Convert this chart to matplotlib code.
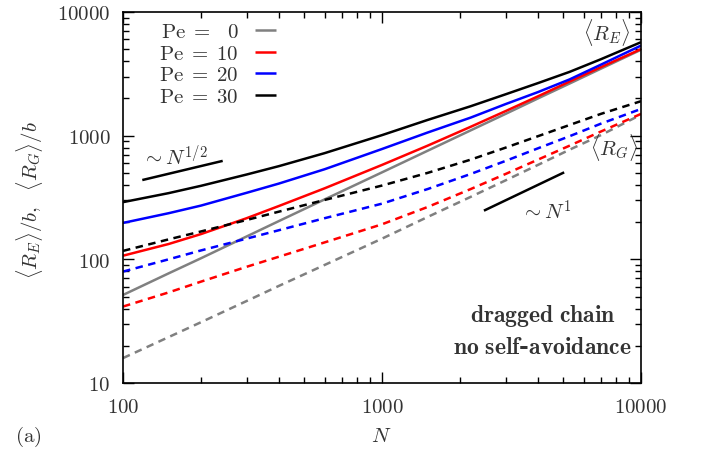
import numpy as np
import matplotlib.pyplot as plt
from matplotlib.ticker import NullFormatter, LogLocator

plt.rcParams['mathtext.fontset'] = 'cm'
plt.rcParams['font.family'] = 'serif'
plt.rcParams['font.serif'] = ['DejaVu Serif']

# chain length
N = [100, 150, 200, 300, 400, 600, 1000, 1500, 2200, 3000, 4000, 5300, 7000, 10000]

# end-to-end distance <R_E>/b
re_pe0 = [51.5, 77, 102, 153, 204, 305, 505, 755, 1104, 1500, 2000, 2640, 3480, 4950]
re_pe10 = [107, 133, 160, 215, 270, 375, 580, 830, 1180, 1580, 2080, 2740, 3580, 5010]
re_pe20 = [197, 236, 272, 345, 410, 535, 780, 1060, 1400, 1800, 2250, 2850, 3750, 5350]
re_pe30 = [290, 343, 393, 485, 567, 722, 1010, 1340, 1730, 2160, 2660, 3280, 4150, 5700]

# radius of gyration <R_G>/b
rg_pe0 = [15.9, 23.5, 31, 46, 61, 90, 147, 220, 320, 435, 580, 770, 1010, 1479]
rg_pe10 = [41.5, 54, 66, 87, 105, 137, 192, 265, 370, 490, 640, 830, 1080, 1500]
rg_pe20 = [79.6, 100, 118, 147, 172, 215, 282, 370, 490, 625, 790, 990, 1250, 1644]
rg_pe30 = [117, 145, 168, 208, 243, 302, 395, 500, 640, 800, 990, 1220, 1500, 1900]

pe_labels = [r'$\mathrm{Pe}\;=\;\enspace 0$', r'$\mathrm{Pe}\;=\;10$',
             r'$\mathrm{Pe}\;=\;20$', r'$\mathrm{Pe}\;=\;30$']
colors = ['#808080', '#ff0000', '#0000ff', '#000000']

# guide lines
half_x = [120, 240]
half_y = [440, 622]
one_x = [2500, 5000]
one_y = [250, 500]

fig = plt.figure(figsize=(7.09, 4.56), dpi=100)
ax = fig.add_axes([123/709, 1-384/456, 518/709, 371/456])

re_all = [re_pe0, re_pe10, re_pe20, re_pe30]
rg_all = [rg_pe0, rg_pe10, rg_pe20, rg_pe30]
for re, rg, c, lab in zip(re_all, rg_all, colors, pe_labels):
    ax.plot(N, re, color=c, lw=1.8, label=lab, solid_capstyle='butt')
    ax.plot(N, rg, color=c, lw=1.8, dashes=(3.0, 2.2))

ax.plot(half_x, half_y, color='black', lw=1.8)
ax.plot(one_x, one_y, color='black', lw=1.8)

ax.set_xscale('log')
ax.set_yscale('log')
ax.set_xlim(100, 10000)
ax.set_ylim(10, 10000)

ax.set_xticks([100, 1000, 10000])
ax.set_xticklabels([r'$100$', r'$1000$', r'$10000$'])
ax.set_yticks([10, 100, 1000, 10000])
ax.set_yticklabels([r'$10$', r'$100$', r'$1000$', r'$10000$'])
ax.xaxis.set_minor_locator(LogLocator(base=10, subs=np.arange(2, 10)))
ax.yaxis.set_minor_locator(LogLocator(base=10, subs=np.arange(2, 10)))
ax.xaxis.set_minor_formatter(NullFormatter())
ax.yaxis.set_minor_formatter(NullFormatter())
ax.tick_params(which='both', direction='in', top=True, right=True,
               labelsize=15, colors='black', labelcolor='#333333')
ax.tick_params(which='major', length=8, width=1)
ax.tick_params(which='minor', length=4, width=1)
ax.tick_params(axis='x', pad=10)
ax.tick_params(axis='y', pad=9)
for s in ax.spines.values():
    s.set_linewidth(1.2)

leg = ax.legend(loc='upper left', markerfirst=False, frameon=False,
                fontsize=15, handlelength=1.0, handletextpad=0.8,
                labelspacing=0.12, borderaxespad=0.1,
                bbox_to_anchor=(0.05, 1.0))
for t in leg.get_texts():
    t.set_color('#333333')

ax.text(118, 690, r'$\sim N^{1/2}$', fontsize=15, color='#333333',
        ha='left', va='center')
ax.text(3450, 245, r'$\sim N^{1}$', fontsize=15, color='#333333',
        ha='left', va='center')
ax.text(9100, 7000, r'$\langle R_E\rangle$', fontsize=15, color='#333333',
        ha='right', va='center')
ax.text(9750, 810, r'$\langle R_G\rangle$', fontsize=15, color='#333333',
        ha='right', va='center')
ax.text(0.81, 0.183, r'$\mathbf{dragged\ chain}$', transform=ax.transAxes,
        fontsize=17, color='#333333', ha='center', va='center')
ax.text(0.81, 0.10, r'$\mathbf{no\ self}$' + '-' + r'$\mathbf{avoidance}$',
        transform=ax.transAxes, fontsize=17, color='#333333',
        ha='center', va='center', fontweight='bold')

fig.text(30/709, 1-200/456, r'$\langle R_E\rangle/b,\ \ \langle R_G\rangle/b$',
         rotation=90, fontsize=15, color='#333333', ha='center', va='center')
fig.text(381/709, 1-437/456, r'$N$', fontsize=15, color='#333333',
         ha='center', va='center')
fig.text(15/709, 1-437/456, r'$\mathrm{(a)}$', fontsize=15, color='#333333',
         ha='left', va='center')

fig.savefig('out.png', dpi=100)
